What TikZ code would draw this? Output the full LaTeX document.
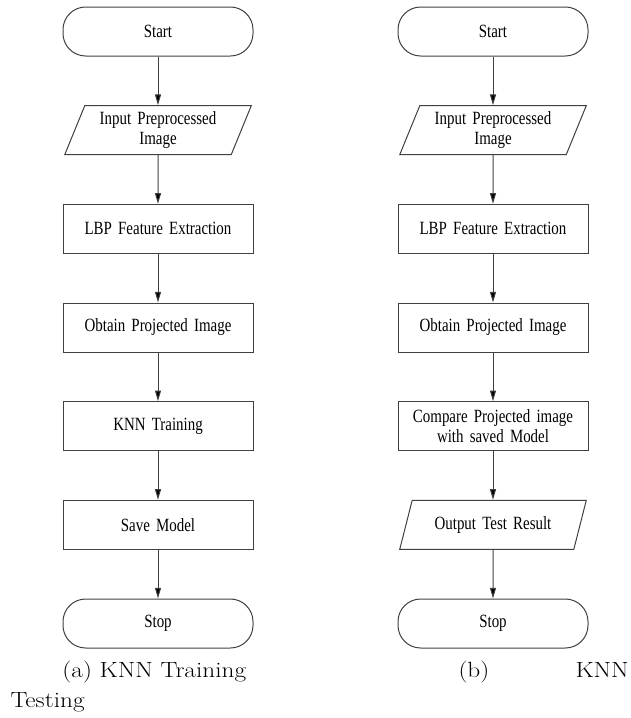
\documentclass[tikz,border=0pt]{standalone}
\usepackage{fontspec}
\newfontfamily\boxfont[FakeStretch=0.8]{Liberation Serif}
\newfontfamily\capfont[FakeStretch=1.15]{Latin Modern Roman}
\usepackage{tikz}
\usetikzlibrary{shapes,arrows,arrows.meta,positioning}
\newcommand{\boxtext}{\boxfont\fontsize{14}{15}\selectfont\spaceskip=2.6pt\relax}
\tikzstyle{startstop} = [rectangle, rounded corners=17pt, minimum width=142.5pt, minimum height=36.75pt, text width=130pt, text centered, draw=black!75, font=\boxtext]
\tikzstyle{io} = [trapezium, trapezium left angle=67, trapezium right angle=113, minimum width=140pt, minimum height=36.75pt, text width=100pt, text centered, draw=black!75, trapezium stretches=true, font=\boxtext]
\tikzstyle{process} = [rectangle, minimum width=142.5pt, minimum height=36.75pt, text width=130pt, text centered, draw=black!75, font=\boxtext]
\tikzstyle{caption} = [inner sep=0pt, anchor=base west, font=\capfont\fontsize{16.5}{20}\selectfont]

\begin{document}
\begin{tikzpicture}[x=0.75pt, y=-0.75pt, node distance=74pt, line width=0.75pt]
    \useasboundingbox (0,0) rectangle (631,718);

    % (a) training
    \node(starta)[startstop] at (158,31.5){Start};
    \node(ina)[io, below of=starta]{Input Preprocessed\\Image};
    \node(lbpa)[process, below of=ina]{LBP Feature Extraction};
    \node(proja)[process, below of=lbpa]{Obtain Projected Image};
    \node(knna)[process, below of=proja]{KNN Training};
    \node(savea)[process, below of=knna]{Save Model};
    \node(stopa)[startstop, below of=savea]{Stop};

    % (b) testing
    \node(startb)[startstop, right of=starta, xshift=177.25pt]{Start};
    \node(inb)[io, below of=startb]{Input Preprocessed\\Image};
    \node(lbpb)[process, below of=inb]{LBP Feature Extraction};
    \node(projb)[process, below of=lbpb]{Obtain Projected Image};
    \node(compb)[process, below of=projb]{Compare Projected image\\with saved Model};
    \node(outb)[io, below of=compb]{Output Test Result};
    \node(stopb)[startstop, below of=outb]{Stop};

    \draw[-{Triangle[length=8pt,width=4.5pt]}, draw=black!75] (starta) edge (ina)
        (ina) edge (lbpa)
        (lbpa) edge (proja)
        (proja) edge (knna)
        (knna) edge (savea)
        (savea) edge (stopa);
    \draw[-{Triangle[length=8pt,width=4.5pt]}, draw=black!75] (startb) edge (inb)
        (inb) edge (lbpb)
        (lbpb) edge (projb)
        (projb) edge (compb)
        (compb) edge (outb)
        (outb) edge (stopb);

    \node(capa)[caption] at (62,677){(a) KNN Training};
    \node(capb)[caption] at (458,677){(b)};
    \node(capc)[caption] at (575,677){KNN};
    \node(capd)[caption] at (10,707){Testing};
\end{tikzpicture}
\end{document}
